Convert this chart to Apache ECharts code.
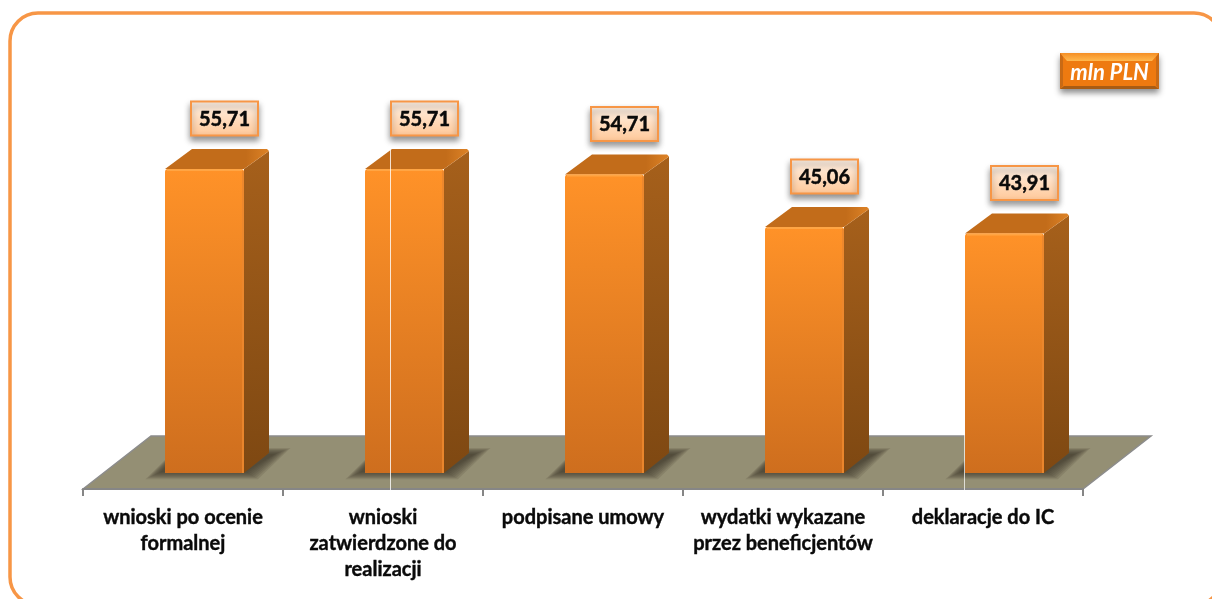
<!DOCTYPE html>
<html>
<head>
<meta charset="utf-8">
<style>
  html, body { margin: 0; padding: 0; background: #fff; overflow: hidden; }
  #chart { width: 1212px; height: 599px; }
</style>
<script src="https://cdn.jsdelivr.net/npm/echarts@6/dist/echarts.min.js"></script>
</head>
<body>
<div id="chart"></div>
<script>
const categories = [
  'wnioski po ocenie\nformalnej',
  'wnioski\nzatwierdzone do\nrealizacji',
  'podpisane umowy',
  'wydatki wykazane\nprzez beneficjentów',
  'deklaracje do IC'
];
const values = [55.71, 55.71, 54.71, 45.06, 43.91];
const unitLabel = 'mln PLN';

const FONT = 'Lato, "Open Sans", sans-serif';
const DEPTH_X = 25, DEPTH_Y = 20;      // bar depth
const FLOOR_X = 68, FLOOR_Y = 53;      // floor depth
const AXIS_DROP = 16;                  // x axis sits below the bar bases

function vGrad(top, bottom) {
  return { type: 'linear', x: 0, y: 0, x2: 0, y2: 1, colorStops: [{ offset: 0, color: top }, { offset: 1, color: bottom }] };
}

function renderFloor(params, api) {
  const c = params.coordSys;
  const front = c.y + c.height + AXIS_DROP;
  const back = front - FLOOR_Y;
  return {
    type: 'polygon',
    shape: { points: [[c.x, front], [c.x + FLOOR_X, back], [c.x + c.width + FLOOR_X, back], [c.x + c.width, front]] },
    style: { fill: '#948F74', stroke: '#8C8C8C', lineWidth: 1.5 }
  };
}

// stacked see-through polygons give the soft shadow around the base
function floorShadow(x0, x1, yB) {
  const layers = [];
  for (let k = 7; k >= 0; k--) {
    const d = k * 1.7;
    layers.push({
      type: 'polygon',
      shape: { points: [
        [x0 - 4 - d * 1.3, yB - 1 + d * 0.6],
        [x1 + 2 + d, yB - 1 + d * 0.6],
        [x1 + DEPTH_X + 6 + d * 1.3, yB - DEPTH_Y + 1 - d * 0.5],
        [x0 + 12, yB - DEPTH_Y + 1 - d * 0.5]
      ] },
      style: { fill: 'rgba(58,54,40,0.15)' }
    });
  }
  return layers;
}

function renderBar(params, api) {
  const i = api.value(0);
  const v = api.value(1);
  const top = api.coord([i, v]);
  const base = api.coord([i, 0]);
  const band = api.size([1, 0])[0];
  const w = band * 0.395;
  const x0 = top[0] - 18;          // front face is pushed forward of the band centre
  const x1 = x0 + w;
  const yT = top[1];
  const yB = base[1];
  const boxW = 67, boxH = 34;
  const boxX = x0 + w / 2 + 20 - boxW / 2;
  const boxY = yT - 67.5;

  return {
    type: 'group',
    children: floorShadow(x0, x1, yB).concat([
      // side
      {
        type: 'polygon',
        shape: { points: [[x1, yT], [x1 + DEPTH_X, yT - DEPTH_Y + 2], [x1 + DEPTH_X, yB - DEPTH_Y], [x1, yB]] },
        style: { fill: vGrad('#A6601B', '#7E4812') }
      },
      // top
      {
        type: 'polygon',
        shape: { points: [[x0, yT], [x0 + DEPTH_X + 2, yT - DEPTH_Y], [x1 + DEPTH_X - 2, yT - DEPTH_Y], [x1 + DEPTH_X, yT - DEPTH_Y + 2], [x1, yT]] },
        style: {
          fill: { type: 'linear', x: 0, y: 0, x2: 1, y2: 0, colorStops: [
            { offset: 0, color: '#C26C1A' }, { offset: 0.78, color: '#C26C1A' }, { offset: 1, color: '#DE8326' }
          ] }
        }
      },
      // front
      {
        type: 'rect',
        shape: { x: x0, y: yT, width: w, height: yB - yT, r: [3, 3, 0, 0] },
        style: { fill: vGrad('#FF9228', '#CE6E1E') }
      },
      // bevel edges
      {
        type: 'line',
        shape: { x1: x0 + 2, y1: yT + 1, x2: x1 - 2, y2: yT + 1 },
        style: { stroke: '#FFA544', lineWidth: 2 }
      },
      {
        type: 'line',
        shape: { x1: x1 - 1, y1: yT + 2, x2: x1 - 1, y2: yB },
        style: { stroke: 'rgba(235,135,45,0.9)', lineWidth: 2 }
      },
      // value box
      {
        type: 'rect',
        shape: { x: boxX, y: boxY, width: boxW, height: boxH },
        style: {
          fill: vGrad('#FFF3E8', '#FFC797'), stroke: '#F79646', lineWidth: 2,
          shadowBlur: 6, shadowOffsetY: 4, shadowColor: 'rgba(0,0,0,0.4)'
        }
      },
      {
        type: 'text',
        style: {
          x: boxX + boxW / 2, y: boxY + boxH / 2 + 1,
          text: v.toFixed(2).replace('.', ','),
          align: 'center', verticalAlign: 'middle',
          fill: '#0A0A0A', font: 'bold 20px ' + FONT,
          stroke: '#0A0A0A', lineWidth: 0.5
        }
      }
    ])
  };
}

const chart = echarts.init(document.getElementById('chart'));

chart.setOption({
  backgroundColor: '#fff',
  animation: false,
  grid: { left: 83, right: 129, top: 145.6, bottom: 126 },
  xAxis: {
    type: 'category',
    data: categories,
    offset: AXIS_DROP,
    z: 5,
    axisLine: { onZero: false, lineStyle: { color: '#868686', width: 2 } },
    axisTick: { show: true, length: 7, alignWithLabel: false, lineStyle: { color: '#868686', width: 2 } },
    axisLabel: {
      interval: 0, margin: 16, color: '#0A0A0A', lineHeight: 26,
      fontFamily: FONT, fontWeight: 'bold', fontSize: 20,
      textBorderColor: '#0A0A0A', textBorderWidth: 0.4
    }
  },
  yAxis: { type: 'value', min: 0, max: 60, show: false },
  series: [
    {
      type: 'custom', z: 1, silent: true, clip: false,
      coordinateSystem: 'cartesian2d',
      renderItem: renderFloor,
      data: [[0, 0]]
    },
    {
      type: 'custom', z: 2, silent: true, clip: false,
      coordinateSystem: 'cartesian2d',
      renderItem: renderBar,
      encode: { x: 0, y: 1 },
      data: values.map((v, i) => [i, v])
    }
  ],
  graphic: [
    // outer frame, runs past the right and bottom of the picture
    {
      type: 'rect', z: -1, silent: true,
      shape: { x: 10, y: 13, width: 1212, height: 592, r: 28 },
      style: { fill: '#fff', stroke: '#F79646', lineWidth: 3.5 }
    },
    // unit badge
    {
      type: 'group', z: 10, silent: true, x: 1060, y: 53,
      children: [
        {
          type: 'rect', shape: { x: 0, y: 0, width: 99, height: 36 },
          style: { fill: '#EE7A10', shadowBlur: 6, shadowOffsetY: 4, shadowColor: 'rgba(0,0,0,0.45)' }
        },
        { type: 'polygon', shape: { points: [[0, 0], [99, 0], [92, 8], [7, 8]] }, style: { fill: vGrad('#F58E24', '#FFB84E') } },
        { type: 'polygon', shape: { points: [[0, 36], [99, 36], [95, 33], [4, 33]] }, style: { fill: '#A85C14' } },
        { type: 'polygon', shape: { points: [[0, 0], [3, 4], [3, 33], [0, 36]] }, style: { fill: '#C96A14' } },
        { type: 'polygon', shape: { points: [[99, 0], [96, 4], [96, 33], [99, 36]] }, style: { fill: '#C96A14' } },
        {
          type: 'text',
          style: {
            x: 49.5, y: 20, text: unitLabel, align: 'center', verticalAlign: 'middle',
            fill: '#fff', font: 'italic bold 22px ' + FONT
          }
        }
      ]
    },
    // thin white seams in the source image
    { type: 'line', z: 10, silent: true, shape: { x1: 390.5, y1: 150, x2: 390.5, y2: 490 }, style: { stroke: 'rgba(255,255,255,0.8)', lineWidth: 1 } },
    { type: 'line', z: 10, silent: true, shape: { x1: 964.5, y1: 234, x2: 964.5, y2: 490 }, style: { stroke: 'rgba(255,255,255,0.7)', lineWidth: 1 } }
  ]
});

window.onresize = function () {
  chart.resize();
};
</script>
</body>
</html>
